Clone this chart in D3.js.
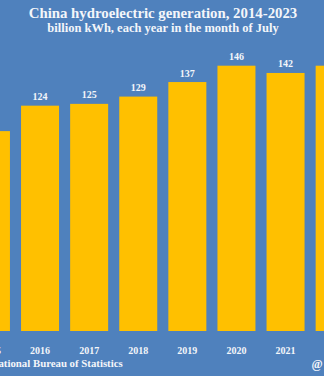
<!DOCTYPE html>
<html>
<head>
<meta charset="utf-8">
<script src="https://cdn.jsdelivr.net/npm/d3@7"></script>
<style>
  html, body { margin: 0; padding: 0; background: #4f81bd; }
  svg { display: block; }
  text { font-family: "Liberation Serif", "Times New Roman", serif; font-weight: bold; fill: #f4f6fa; }
</style>
</head>
<body>
<div id="chart"></div>
<script>
// July hydroelectric generation, billion kWh
const years = ["2015", "2016", "2017", "2018", "2019", "2020", "2021", "2022"];
const values = [110, 124, 125, 129, 137, 146, 142, 146];
const titleText = "China hydroelectric generation, 2014-2023";
const subtitleText = "billion kWh, each year in the month of July";
const sourceText = "Source: National Bureau of Statistics";
const handleText = "@";

const width = 324, height = 376;
const baseline = 331;

const svg = d3.select("#chart").append("svg")
  .attr("width", width).attr("height", height);

svg.append("rect").attr("width", width).attr("height", height).attr("fill", "#4f81bd");

const step = 49.1;
const x = d3.scaleBand()
  .domain(years)
  .range([-33.6, -33.6 + years.length * step])
  .paddingInner(0.226)
  .paddingOuter(0.113);

const y = d3.scaleLinear().domain([0, 146]).range([baseline, baseline - 265.3]);

const bars = years.map((d, i) => ({ year: d, value: values[i] }));
const center = d => x(d) + x.bandwidth() / 2;

svg.append("g").selectAll("rect")
  .data(bars)
  .join("rect")
  .attr("x", d => x(d.year))
  .attr("width", x.bandwidth())
  .attr("y", d => y(d.value))
  .attr("height", d => y(0) - y(d.value))
  .attr("fill", "#ffc000");

// Value labels on the bars that sit wholly inside the frame
svg.append("g").selectAll("text")
  .data(bars.filter(d => x(d.year) >= 0 && x(d.year) + x.bandwidth() <= width))
  .join("text")
  .attr("x", d => center(d.year))
  .attr("y", d => y(d.value) - 5.5)
  .attr("text-anchor", "middle")
  .attr("font-size", 10)
  .text(d => d.value);

// Category axis without domain line or ticks; only years whose label reaches the frame
const xAxis = svg.append("g")
  .attr("transform", `translate(0,${baseline})`)
  .call(d3.axisBottom(x)
    .tickValues(years.filter(d => center(d) - 10 < width))
    .tickSize(0).tickPadding(15.5));
xAxis.select(".domain").remove();
xAxis.selectAll("text")
  .attr("font-size", 10)
  .style("font-family", '"Liberation Serif", "Times New Roman", serif')
  .style("font-weight", "bold")
  .attr("fill", "#f4f6fa");

svg.append("text")
  .attr("x", 163).attr("y", 18)
  .attr("text-anchor", "middle")
  .attr("font-size", 14.8)
  .text(titleText);

svg.append("text")
  .attr("x", 163).attr("y", 31.8)
  .attr("text-anchor", "middle")
  .attr("font-size", 12.5)
  .text(subtitleText);

svg.append("text")
  .attr("x", 122.7).attr("y", 367.2)
  .attr("text-anchor", "end")
  .attr("font-size", 10.8)
  .text(sourceText);

svg.append("text")
  .attr("x", 311.5).attr("y", 368)
  .attr("font-size", 12)
  .text(handleText);
</script>
</body>
</html>
